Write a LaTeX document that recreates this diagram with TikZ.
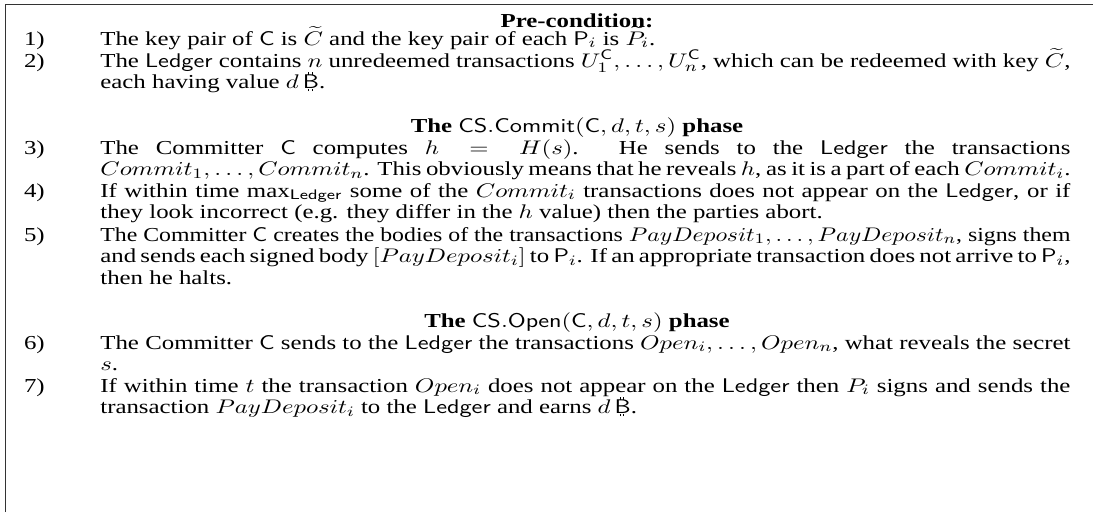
\documentclass[tikz,border=0pt]{standalone}
\usepackage{graphicx}
\usepackage{fontspec}
\setmainfont{Liberation Serif}
\usetikzlibrary{positioning}

% bitcoin sign: sans B with two short strokes above and below
\newcommand{\btcsign}{\mbox{%
  \rlap{\hspace{0.2em}\rule[-0.13em]{0.045em}{0.13em}\hspace{0.1em}\rule[-0.13em]{0.045em}{0.13em}}%
  \rlap{\hspace{0.2em}\rule[0.69em]{0.045em}{0.13em}\hspace{0.1em}\rule[0.69em]{0.045em}{0.13em}}%
  \textsf{B}}}
\newcommand{\ldg}{\textsf{Ledger}}
% the printed text is wider than high
\newcommand{\wide}[1]{\scalebox{1.255}[1]{#1}}
\newcommand{\itembody}[1]{\wide{\parbox[t]{429.5pt}{#1}}}
\newcommand{\fitline}[1]{\resizebox{\linewidth}{\height}{#1}}

\begin{document}
\begin{tikzpicture}[x=0.5556pt, y=-0.5556pt, font=\fontsize{11}{12}\selectfont,
    itemtext/.style={anchor=base west, inner sep=0pt},
    itemnum/.style={anchor=base east, inner sep=0pt},
    phasehead/.style={anchor=base, inner sep=0pt}]

	\useasboundingbox (0,0) rectangle (1093,512);

	% frame
	\draw[line width=0.8pt, black!80] (5.5,512) -- (5.5,4.5) -- (1093,4.5);

	% pre-condition
	\node[phasehead] (pre) at (577,27) {\wide{\textbf{Pre-condition:}}};
	\node[itemtext] (t1) at (100,45) {\itembody{The key pair of $\mathsf{C}$ is $\widetilde{C}$ and the key pair of each $\mathsf{P}_i$ is $\widetilde{P}_i$.}};
	\node[itemtext] (t2) at (100,67) {\itembody{The \ldg{} contains $n$ unredeemed transactions $U_1^{\mathsf{C}},\dots,U_n^{\mathsf{C}}$, which can be redeemed with key $\widetilde{C}$,\linebreak each having value $d\,$\btcsign.}};

	% commit phase
	\node[phasehead] (com) at (577,132) {\wide{\textbf{The} $\mathsf{CS.Commit}(\mathsf{C},d,t,s)$ \textbf{phase}}};
	\node[itemtext] (t3) at (100,154) {\itembody{The Committer $\mathsf{C}$ computes $h = H(s)$. He sends to the \ldg{} the transactions\linebreak $Commit_1,\dots,Commit_n$. This obviously means that he reveals $h$, as it is a part of each $Commit_i$.}};
	\node[itemtext] (t4) at (100,197) {\itembody{If within time $\max_{\mathsf{Ledger}}$ some of the $Commit_i$ transactions does not appear on the \ldg{}, or if\linebreak they look incorrect (e.g. they differ in the $h$ value) then the parties abort.}};
	\node[itemtext] (t5) at (100,241) {\itembody{\fitline{The Committer $\mathsf{C}$ creates the bodies of the transactions $PayDeposit_1,\dots,PayDeposit_n$, signs them}\\ and sends each signed body $[PayDeposit_i]$ to $\mathsf{P}_i$. If an appropriate transaction does not arrive to $\mathsf{P}_i$,\linebreak then he halts.}};

	% open phase
	\node[phasehead] (opn) at (577,327) {\wide{\textbf{The} $\mathsf{CS.Open}(\mathsf{C},d,t,s)$ \textbf{phase}}};
	\node[itemtext] (t6) at (100,349) {\itembody{The Committer $\mathsf{C}$ sends to the \ldg{} the transactions $Open_i,\dots,Open_n$, what reveals the secret\linebreak $s$.}};
	\node[itemtext] (t7) at (100,392) {\itembody{If within time $t$ the transaction $Open_i$ does not appear on the \ldg{} then $P_i$ signs and sends the\linebreak transaction $PayDeposit_i$ to the \ldg{} and earns $d\,$\btcsign.}};

	% item numbers
	\foreach \n in {1,...,7}
		\node[itemnum] (n\n) at ([xshift=-30.5pt]t\n.base west) {\wide{\n)}};

\end{tikzpicture}
\end{document}
